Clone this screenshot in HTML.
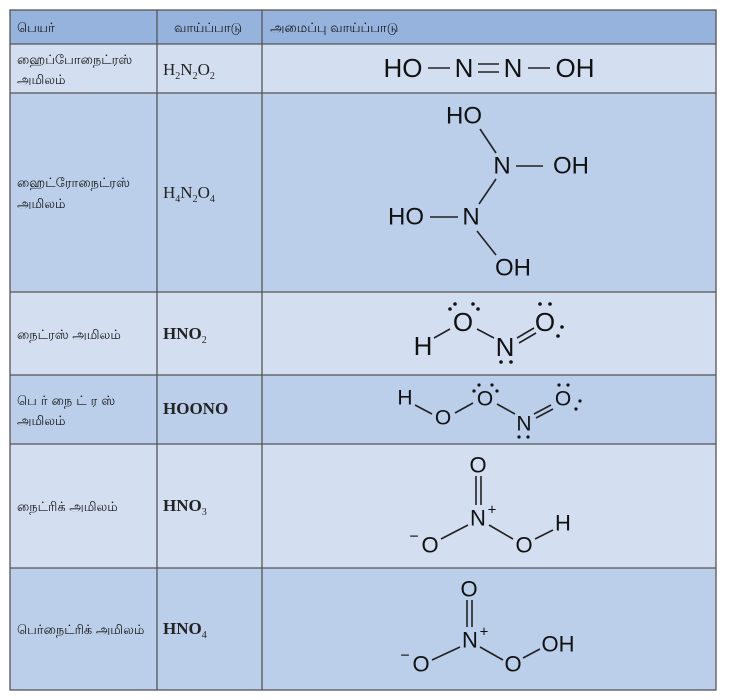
<!DOCTYPE html>
<html><head><meta charset="utf-8"><style>
body{margin:0;background:#fff}
svg{display:block}
.t{font-family:"Liberation Sans","Noto Sans CJK SC",sans-serif;font-size:13px;fill:#111}
.f{font-family:"Liberation Serif",serif;font-size:17px;fill:#222}
.c{font-family:"Liberation Sans",sans-serif;fill:#111;text-anchor:middle;dominant-baseline:central}
line{stroke:#222;stroke-width:1.6}
</style></head><body>
<svg width="732" height="700" viewBox="0 0 732 700">
<rect x="10" y="10" width="706" height="34" fill="#95b3dc"/>
<rect x="10" y="44" width="706" height="49" fill="#d3dff1"/>
<rect x="10" y="93" width="706" height="199" fill="#bccfea"/>
<rect x="10" y="292" width="706" height="83" fill="#d3dff1"/>
<rect x="10" y="375" width="706" height="69" fill="#bccfea"/>
<rect x="10" y="444" width="706" height="124" fill="#d3dff1"/>
<rect x="10" y="568" width="706" height="122" fill="#bccfea"/>
<g stroke="#555" stroke-width="1.3" fill="none">
<rect x="10" y="10" width="706" height="680"/>
<line x1="157" y1="10" x2="157" y2="690" style="stroke:#555;stroke-width:1.3"/>
<line x1="262" y1="10" x2="262" y2="690" style="stroke:#555;stroke-width:1.3"/>
<line x1="10" y1="44" x2="716" y2="44" style="stroke:#555;stroke-width:1.3"/>
<line x1="10" y1="93" x2="716" y2="93" style="stroke:#555;stroke-width:1.3"/>
<line x1="10" y1="292" x2="716" y2="292" style="stroke:#555;stroke-width:1.3"/>
<line x1="10" y1="375" x2="716" y2="375" style="stroke:#555;stroke-width:1.3"/>
<line x1="10" y1="444" x2="716" y2="444" style="stroke:#555;stroke-width:1.3"/>
<line x1="10" y1="568" x2="716" y2="568" style="stroke:#555;stroke-width:1.3"/>
</g>
<text class="t" x="17" y="32">பெயர்</text>
<text class="t" x="174" y="32">வாய்ப்பாடு</text>
<text class="t" x="270" y="32">அமைப்பு வாய்ப்பாடு</text>
<text class="t" x="17" y="64">ஹைப்போநைட்ரஸ்</text>
<text class="t" x="17" y="84">அமிலம்</text>
<text class="t" x="17" y="187">ஹைட்ரோநைட்ரஸ்</text>
<text class="t" x="17" y="208">அமிலம்</text>
<text class="t" x="17" y="339">நைட்ரஸ் அமிலம்</text>
<text class="t" x="17" y="405" letter-spacing="4">பெர்நைட்ரஸ்</text>
<text class="t" x="17" y="425">அமிலம்</text>
<text class="t" x="17" y="511">நைட்ரிக் அமிலம்</text>
<text class="t" x="17" y="634">பெர்நைட்ரிக் அமிலம்</text>
<text class="f" x="163" y="75">H<tspan font-size="10" dy="4">2</tspan><tspan dy="-4">N</tspan><tspan font-size="10" dy="4">2</tspan><tspan dy="-4">O</tspan><tspan font-size="10" dy="4">2</tspan></text>
<text class="f" x="163" y="198">H<tspan font-size="10" dy="4">4</tspan><tspan dy="-4">N</tspan><tspan font-size="10" dy="4">2</tspan><tspan dy="-4">O</tspan><tspan font-size="10" dy="4">4</tspan></text>
<text class="f" x="163" y="339" font-weight="bold">HNO<tspan font-size="10" font-weight="normal" dy="4">2</tspan></text>
<text class="f" x="163" y="414" font-weight="bold">HOONO</text>
<text class="f" x="163" y="511" font-weight="bold">HNO<tspan font-size="10" font-weight="normal" dy="4">3</tspan></text>
<text class="f" x="163" y="634" font-weight="bold">HNO<tspan font-size="10" font-weight="normal" dy="4">4</tspan></text>
<!-- row1 -->
<g font-size="26">
<text class="c" x="403" y="68">HO</text>
<line x1="428" y1="68" x2="450" y2="68"/>
<text class="c" x="464" y="68">N</text>
<line x1="478" y1="64" x2="499" y2="64"/><line x1="478" y1="72" x2="499" y2="72"/>
<text class="c" x="513" y="68">N</text>
<line x1="528" y1="68" x2="550" y2="68"/>
<text class="c" x="575" y="68">OH</text>
</g>
<!-- row2 -->
<g font-size="24">
<text class="c" x="464" y="116">HO</text>
<line x1="480" y1="129" x2="496" y2="153"/>
<text class="c" x="502" y="166">N</text>
<line x1="516" y1="166" x2="543" y2="166"/>
<text class="c" x="571" y="166">OH</text>
<line x1="496" y1="179" x2="479" y2="204"/>
<text class="c" x="406" y="217">HO</text>
<line x1="430" y1="217" x2="458" y2="217"/>
<text class="c" x="471" y="217">N</text>
<line x1="477" y1="231" x2="496" y2="255"/>
<text class="c" x="513" y="268">OH</text>
</g>
<!-- row3 -->
<g font-size="26">
<text class="c" x="423" y="346">H</text>
<line x1="434" y1="338" x2="450" y2="329"/>
<text class="c" x="463" y="322">O</text>
<line x1="477" y1="329" x2="494" y2="338"/>
<text class="c" x="505" y="347">N</text>
<line x1="517" y1="338" x2="534" y2="328"/><line x1="519" y1="343" x2="536" y2="333"/>
<text class="c" x="545" y="322">O</text>
</g>
<g fill="#111">
<circle cx="450" cy="309" r="1.8"/><circle cx="455" cy="304" r="1.8"/>
<circle cx="473" cy="304" r="1.8"/><circle cx="478" cy="309" r="1.8"/>
<circle cx="540" cy="304" r="1.8"/><circle cx="550" cy="304" r="1.8"/>
<circle cx="562" cy="327" r="1.8"/><circle cx="558" cy="336" r="1.8"/>
<circle cx="501" cy="362" r="1.8"/><circle cx="511" cy="362" r="1.8"/>
</g>
<!-- row4 -->
<g font-size="21">
<text class="c" x="405" y="398">H</text>
<line x1="415" y1="405" x2="432" y2="414"/>
<text class="c" x="443" y="418">O</text>
<line x1="455" y1="413" x2="473" y2="403"/>
<text class="c" x="485" y="399">O</text>
<line x1="497" y1="404" x2="515" y2="414"/>
<text class="c" x="524" y="424">N</text>
<line x1="534" y1="414" x2="551" y2="405"/><line x1="536" y1="418" x2="553" y2="409"/>
<text class="c" x="563" y="399">O</text>
</g>
<g fill="#111">
<circle cx="479" cy="385" r="1.6"/><circle cx="492" cy="385" r="1.6"/>
<circle cx="474" cy="391" r="1.6"/><circle cx="497" cy="391" r="1.6"/>
<circle cx="559" cy="385" r="1.6"/><circle cx="568" cy="385" r="1.6"/>
<circle cx="580" cy="401" r="1.6"/><circle cx="576" cy="409" r="1.6"/>
<circle cx="519" cy="437" r="1.6"/><circle cx="528" cy="437" r="1.6"/>
</g>
<!-- row5 -->
<g font-size="22">
<text class="c" x="478" y="465">O</text>
<line x1="476" y1="476" x2="476" y2="505"/><line x1="481" y1="476" x2="481" y2="505"/>
<text class="c" x="478" y="518">N</text>
<text class="c" x="492" y="510" font-size="15">+</text>
<line x1="468" y1="525" x2="441" y2="539"/>
<line x1="489" y1="525" x2="513" y2="539"/>
<text class="c" x="430" y="545">O</text>
<text class="c" x="414" y="537" font-size="16">−</text>
<text class="c" x="524" y="545">O</text>
<line x1="535" y1="539" x2="553" y2="530"/>
<text class="c" x="563" y="523">H</text>
</g>
<!-- row6 -->
<g font-size="22">
<text class="c" x="469" y="589">O</text>
<line x1="467" y1="600" x2="467" y2="627"/><line x1="472" y1="600" x2="472" y2="627"/>
<text class="c" x="470" y="640">N</text>
<text class="c" x="484" y="632" font-size="15">+</text>
<line x1="460" y1="647" x2="432" y2="660"/>
<line x1="480" y1="647" x2="503" y2="660"/>
<text class="c" x="421" y="664">O</text>
<text class="c" x="405" y="656" font-size="16">−</text>
<text class="c" x="513" y="664">O</text>
<line x1="523" y1="658" x2="540" y2="649"/>
<text class="c" x="558" y="644">OH</text>
</g>
</svg>
</body></html>
